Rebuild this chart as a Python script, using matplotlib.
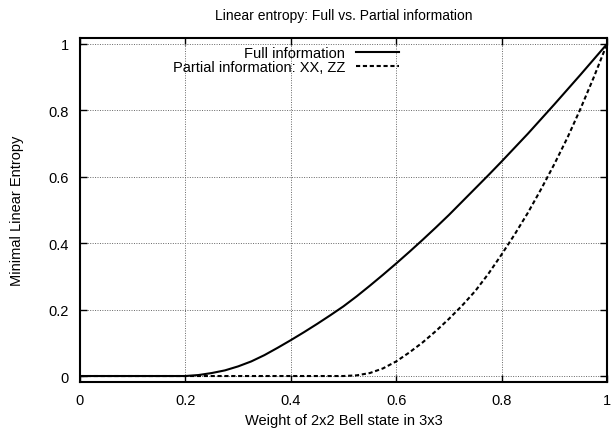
import matplotlib
matplotlib.use("Agg")
import matplotlib.pyplot as plt

# Data
x_full = [0.0, 0.1, 0.2, 0.225, 0.25, 0.275, 0.30, 0.325, 0.35, 0.375, 0.40, 0.425,
          0.45, 0.475, 0.50, 0.525, 0.55, 0.575, 0.60, 0.625, 0.65, 0.675, 0.70,
          0.725, 0.75, 0.775, 0.80, 0.825, 0.85, 0.875, 0.90, 0.925, 0.95, 0.975, 1.0]
y_full = [0.0, 0.0, 0.0, 0.003, 0.009, 0.017, 0.029, 0.044, 0.063, 0.085, 0.108, 0.132,
          0.157, 0.183, 0.210, 0.240, 0.272, 0.305, 0.339, 0.374, 0.410, 0.447, 0.485,
          0.525, 0.565, 0.605, 0.646, 0.688, 0.730, 0.774, 0.818, 0.863, 0.908, 0.954, 1.0]

x_partial = [0.0, 0.1, 0.2, 0.3, 0.4, 0.5, 0.525, 0.55, 0.575, 0.60, 0.625, 0.65,
             0.675, 0.70, 0.725, 0.75, 0.775, 0.80, 0.825, 0.85, 0.875, 0.90, 0.925,
             0.95, 0.975, 1.0]
y_partial = [0.0, 0.0, 0.0, 0.0, 0.0, 0.0, 0.002, 0.009, 0.023, 0.044, 0.071, 0.101,
             0.135, 0.172, 0.212, 0.256, 0.308, 0.366, 0.427, 0.492, 0.563, 0.638, 0.718,
             0.806, 0.900, 1.0]

labels = ["Full information", "Partial information: XX, ZZ"]
x_ticks = [0, 0.2, 0.4, 0.6, 0.8, 1]
x_ticklabels = ["0", "0.2", "0.4", "0.6", "0.8", "1"]
y_ticks = [0, 0.2, 0.4, 0.6, 0.8, 1]
y_ticklabels = ["0", "0.2", "0.4", "0.6", "0.8", "1"]

plt.rcParams['font.family'] = ['Liberation Sans', 'DejaVu Sans']
fs = 10.5

fig = plt.figure(figsize=(6.11, 4.31), dpi=100)
ax = fig.add_axes([80/611, 1 - 383/431, (607-80)/611, (383-39)/431])

ax.plot(x_full, y_full, color='black', lw=1.5, label=labels[0])
ax.plot(x_partial, y_partial, color='black', lw=1.5, linestyle=(0, (2, 1.3)), label=labels[1])

ax.set_xlim(0, 1)
ax.set_ylim(-0.018, 1.018)
ax.set_xticks(x_ticks)
ax.set_xticklabels(x_ticklabels, fontsize=fs)
ax.set_yticks(y_ticks)
ax.set_yticklabels(y_ticklabels, fontsize=fs)
ax.tick_params(direction='in', length=5, width=1, top=True, right=True, pad=8)
ax.grid(True, linestyle=(0, (1, 1.5)), color='#666666', lw=0.7)
for s in ax.spines.values():
    s.set_linewidth(1.5)

ax.set_xlabel("Weight of 2x2 Bell state in 3x3", fontsize=fs, labelpad=4)
ax.set_ylabel("Minimal Linear Entropy", fontsize=fs, labelpad=18)
ax.set_title("Linear entropy: Full vs. Partial information", fontsize=fs - 0.5, pad=14)

leg = ax.legend(loc='upper right', bbox_to_anchor=(399/611, 1 - 47.5/431),
                bbox_transform=fig.transFigure, frameon=False, markerfirst=False,
                fontsize=fs, handlelength=2.95, handletextpad=0.75, borderpad=0,
                borderaxespad=0, labelspacing=0.0)

fig.savefig("out.png", dpi=100)
